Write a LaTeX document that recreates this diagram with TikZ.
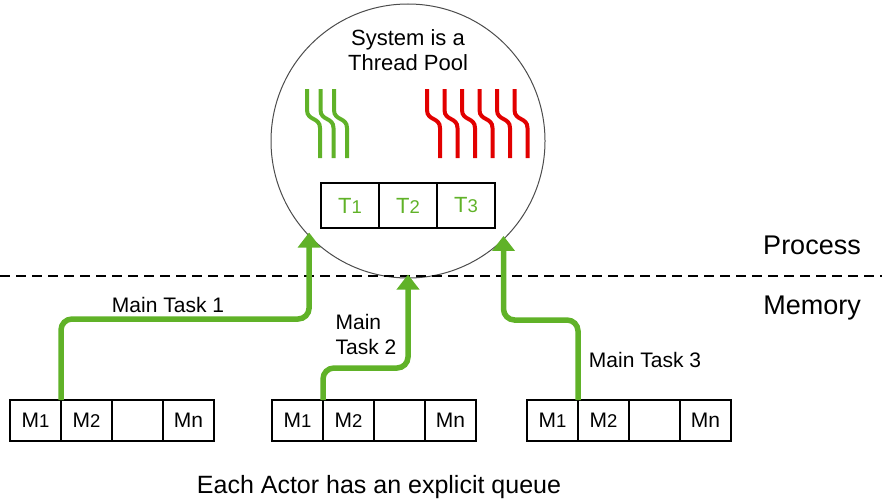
\documentclass[tikz,border=0pt]{standalone}
\usepackage{fontspec}
\setmainfont{Liberation Sans}
\usetikzlibrary{arrows.meta, positioning, calc}
\definecolor{taskgreen}{RGB}{96,178,40}
\definecolor{threadred}{RGB}{226,0,0}
\newcommand{\sm}[1]{{\fontsize{18.5}{18.5}\selectfont #1}}

\begin{document}
\begin{tikzpicture}[x=1pt, y=-1pt,
	cell/.style={draw, line width=1.2pt, outer sep=0pt, inner sep=0pt, minimum width=51pt, minimum height=41pt, font=\fontsize{21}{21}\selectfont},
	tcell/.style={draw, line width=1.2pt, outer sep=0pt, inner sep=0pt, minimum width=58pt, minimum height=45pt, text=taskgreen, font=\fontsize{22}{22}\selectfont},
	tasktext/.style={font=\fontsize{21}{25}\selectfont, align=left, inner sep=0pt},
	task/.style={draw=taskgreen, line width=5.5pt, rounded corners=11pt, shorten >=-4pt, -{Triangle[width=22pt,length=15pt]}},
	thread/.style={line width=4pt},
]
	\useasboundingbox (0,0) rectangle (882,503);

	% the pool
	\node[draw=black!70, line width=1pt, circle, inner sep=0pt, minimum size=274pt] (pool) at (408,141) {};
	\node[font=\fontsize{22}{25}\selectfont, align=center] (title) at (408,50) {System is a\\Thread Pool};
	\foreach \x in {307, 320.5, 334} {
		\draw[thread, taskgreen] (\x,89) -- (\x,110) .. controls (\x,121) and (\x+13,117) .. (\x+13,128) -- (\x+13,158);
	}
	\foreach \x in {427, 444.5, 462, 479.5, 497, 514.5} {
		\draw[thread, threadred] (\x,89) -- (\x,110) .. controls (\x,121) and (\x+13,117) .. (\x+13,128) -- (\x+13,158);
	}
	\node[tcell, anchor=west] (t1) at (321,205.5) {T\sm{1}};
	\node[tcell, right=0pt of t1] (t2) {T\sm{2}};
	\node[tcell, right=0pt of t2] (t3) {T\sm{3}};

	% process / memory
	\draw[line width=2.5pt, dash pattern=on 10pt off 6pt] (0,276) -- (882,276);
	{
		\fontsize{27}{27}\selectfont
		\node (process) at (812,245) {Process};
		\node (memory) at (812,308) {Memory};
	}

	% actor queues
	\foreach \q/\x in {qa/10, qb/272, qc/527} {
		\node[cell, anchor=west] (\q1) at (\x,420.5) {M\sm{1}};
		\node[cell, right=0pt of \q1] (\q2) {M\sm{2}};
		\node[cell, right=0pt of \q2] (\q3) {};
		\node[cell, right=0pt of \q3] (\q4) {Mn};
	}

	\draw[task] (qa1.north east) -- (qa1.north east |- 0,319) -| (pool.224);
	\draw[task] (qb1.north east) -- (qb1.north east |- 0,368) -| (pool.south);
	\draw[task] (qc1.north east) -- (qc1.north east |- 0,320) -| (pool.314);
	\node[tasktext] (main1) at (168,305) {Main Task 1};
	\node[tasktext] (main2) at (366,334) {Main\\Task 2};
	\node[tasktext] (main3) at (645,360) {Main Task 3};

	\node[font=\fontsize{25}{25}\selectfont] (caption) at (379,487) {Each Actor has an explicit queue};
\end{tikzpicture}
\end{document}
